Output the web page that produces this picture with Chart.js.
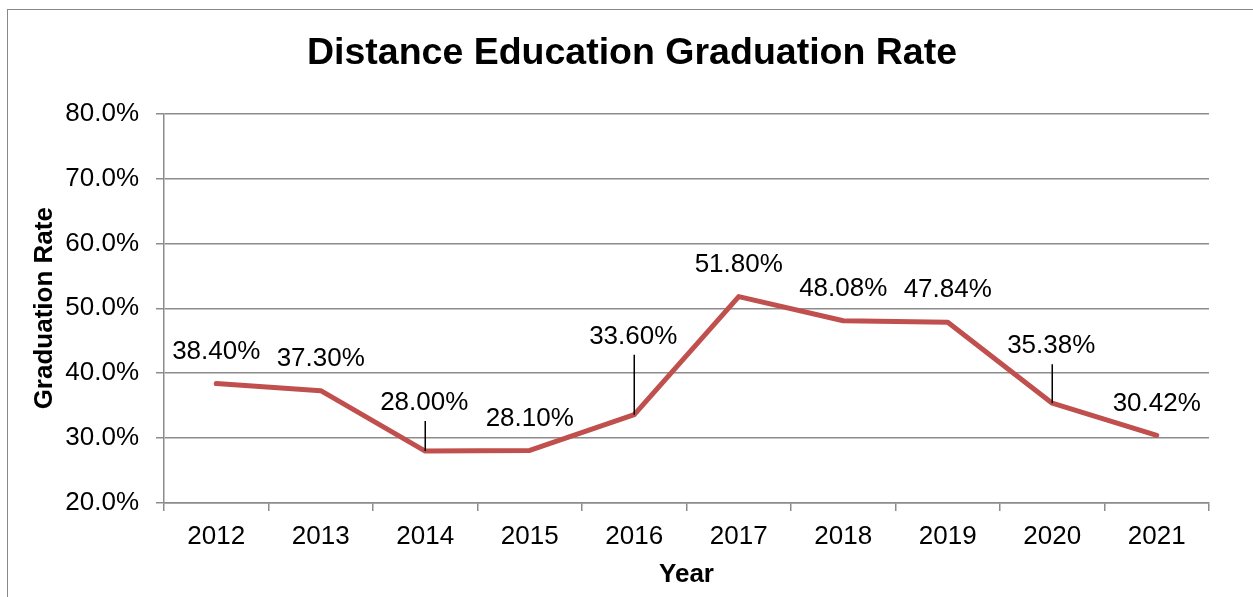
<!DOCTYPE html>
<html>
<head>
<meta charset="utf-8">
<title>Distance Education Graduation Rate</title>
<script src="https://cdn.jsdelivr.net/npm/chart.js@4.4.1/dist/chart.umd.min.js"></script>
<style>
    html, body { margin: 0; padding: 0; background: #fff; }
    #wrap { position: relative; width: 1253px; height: 597px; }
    #frame {
        position: absolute; left: 7px; top: 9px; right: 0; bottom: -2px;
        border-left: 1px solid #888; border-top: 1px solid #888;
        pointer-events: none;
    }
</style>
</head>
<body>
<div id="wrap">
    <canvas id="gradChart"></canvas>
    <div id="frame"></div>
</div>
<script>
// Données du graphique
const years = ['2012', '2013', '2014', '2015', '2016', '2017', '2018', '2019', '2020', '2021'];
const gradRates = [38.40, 37.30, 28.00, 28.10, 33.60, 51.80, 48.08, 47.84, 35.38, 30.42];
const yTicks = [20, 30, 40, 50, 60, 70, 80];

const FONT = "'Liberation Sans', Arial, sans-serif";
const LINE_RED = '#C0504D';
const GRID = '#8c8c8c';

// Placement des étiquettes (décalage du texte, trait de rappel)
const labelPlacement = {
    2: { dx: -1, dy: -48, leader: true },
    4: { dx: -1, dy: -78, leader: true },
    8: { dx: -1, dy: -57, leader: true }
};

/**
 * Étiquettes de valeurs au-dessus des points
 */
const valueLabels = {
    id: 'valueLabels',
    afterDatasetsDraw(chart) {
        const ctx = chart.ctx;
        const meta = chart.getDatasetMeta(0);
        ctx.save();
        ctx.font = '26px ' + FONT;
        ctx.fillStyle = '#000';
        ctx.textAlign = 'center';
        ctx.textBaseline = 'middle';
        meta.data.forEach((pt, i) => {
            const p = labelPlacement[i] || { dx: 0, dy: -32 };
            const tx = pt.x + p.dx;
            const ty = pt.y + p.dy;
            ctx.fillText(gradRates[i].toFixed(2) + '%', tx, ty);
            if (p.leader) {
                ctx.strokeStyle = '#000';
                ctx.lineWidth = 1.5;
                ctx.beginPath();
                ctx.moveTo(pt.x, ty + 18);
                ctx.lineTo(pt.x, pt.y);
                ctx.stroke();
            }
        });
        ctx.restore();
    }
};

/**
 * Centre le titre sur toute la largeur du cadre
 */
const centerTitle = {
    id: 'centerTitle',
    afterLayout(chart) {
        const t = chart.titleBlock;
        if (!t) return;
        t.left = 0;
        t.right = 1264;
        t.width = 1264;
    }
};

const ctx = document.getElementById('gradChart');

new Chart(ctx, {
    type: 'line',
    data: {
        labels: years,
        datasets: [{
            label: 'Graduation Rate',
            data: gradRates,
            borderColor: LINE_RED,
            backgroundColor: LINE_RED,
            borderWidth: 5,
            borderJoinStyle: 'round',
            borderCapStyle: 'round',
            pointRadius: 0,
            tension: 0
        }]
    },
    options: {
        responsive: true,
        maintainAspectRatio: false,
        animation: false,
        layout: {
            padding: { left: 0, right: 44, top: 0, bottom: 0 }
        },
        plugins: {
            legend: { display: false },
            tooltip: { enabled: false },
            title: {
                display: true,
                text: 'Distance Education Graduation Rate',
                color: '#000',
                font: { family: FONT, size: 37.5, weight: 'bold', lineHeight: 1.2 },
                padding: { top: 31.5, bottom: 37 }
            }
        },
        scales: {
            x: {
                offset: true,
                border: { color: GRID, width: 1.5 },
                grid: {
                    offset: true,
                    drawOnChartArea: false,
                    color: GRID,
                    lineWidth: 1.5,
                    tickLength: 8
                },
                ticks: {
                    color: '#000',
                    padding: 10,
                    maxRotation: 0,
                    font: { family: FONT, size: 26 }
                },
                title: {
                    display: true,
                    text: 'Year',
                    color: '#000',
                    font: { family: FONT, size: 26, weight: 'bold', lineHeight: 1.2 },
                    padding: { top: 0, bottom: 7 }
                },
                afterFit: scale => { scale.height = 94; }
            },
            y: {
                min: 20,
                max: 80,
                border: { color: GRID, width: 1.5 },
                grid: {
                    color: GRID,
                    lineWidth: 1.5,
                    tickLength: 8
                },
                afterBuildTicks: scale => {
                    scale.ticks = yTicks.map(v => ({ value: v }));
                },
                ticks: {
                    color: '#000',
                    padding: 17,
                    font: { family: FONT, size: 26 },
                    callback: v => v.toFixed(1) + '%'
                },
                title: {
                    display: true,
                    text: 'Graduation Rate',
                    color: '#000',
                    font: { family: FONT, size: 26, weight: 'bold', lineHeight: 1.2 },
                    padding: { top: 29, bottom: 0 }
                },
                afterFit: scale => { scale.width = 164; }
            }
        }
    },
    plugins: [valueLabels, centerTitle]
});
</script>
</body>
</html>
